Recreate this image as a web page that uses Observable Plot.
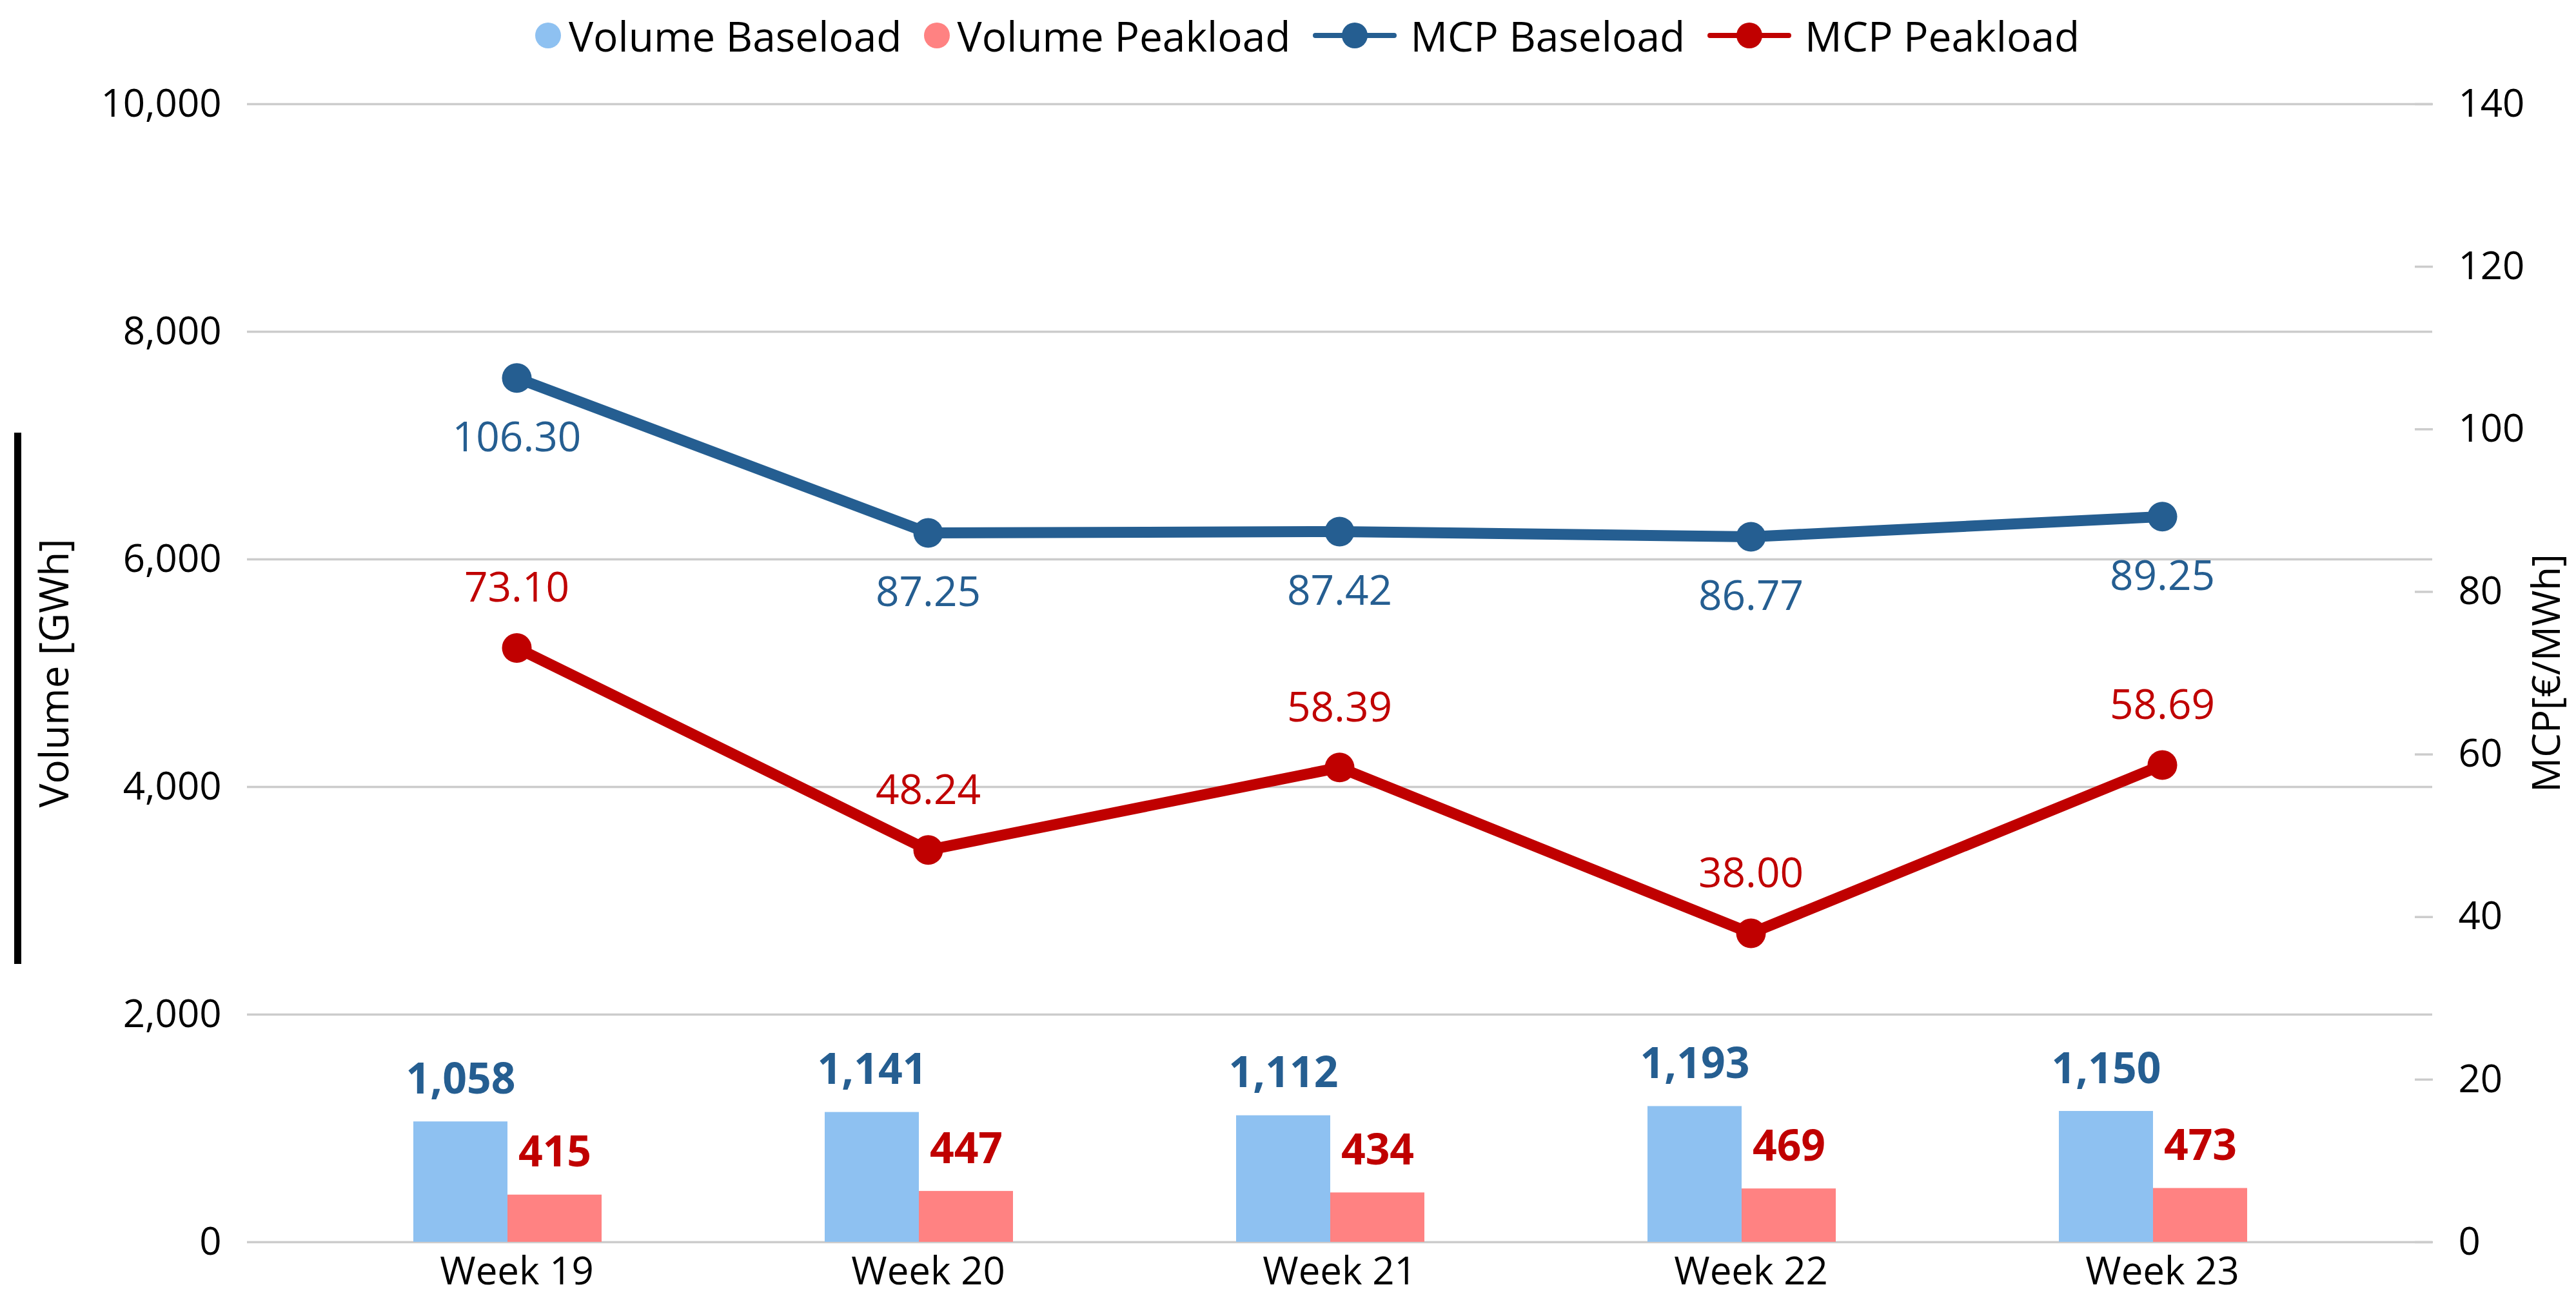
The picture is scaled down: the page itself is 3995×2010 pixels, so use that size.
<!DOCTYPE html>
<html>
<head>
<meta charset="utf-8">
<script src="https://cdn.jsdelivr.net/npm/d3@7"></script>
<script src="https://cdn.jsdelivr.net/npm/@observablehq/plot@0.6"></script>
<style>
  html, body { margin: 0; padding: 0; background: #fff; }
  body { width: 3995px; height: 2010px; position: relative; overflow: hidden; font-family: "Open Sans", sans-serif; }
  #legend { height: 110px; display: flex; justify-content: center; align-items: center; padding-left: 60px; gap: 34px; font-size: 64px; color: #000; }
  .item { display: flex; align-items: center; gap: 12px; white-space: nowrap; }
  .item.line { gap: 20px; }
  .swatch { width: 40px; height: 40px; border-radius: 50%; }
  #bar { position: absolute; left: 22px; top: 671px; width: 11px; height: 824px; background: #000; }
</style>
</head>
<body>
<div id="legend"></div>
<div id="chart"></div>
<div id="bar"></div>
<script>
const weeks = ["Week 19", "Week 20", "Week 21", "Week 22", "Week 23"];
const volumeBaseload = [1058, 1141, 1112, 1193, 1150];
const volumePeakload = [415, 447, 434, 469, 473];
const mcpBaseload = [106.30, 87.25, 87.42, 86.77, 89.25];
const mcpPeakload = [73.10, 48.24, 58.39, 38.00, 58.69];
const volumeTicks = [0, 2000, 4000, 6000, 8000, 10000];
const mcpTicks = [0, 20, 40, 60, 80, 100, 120, 140];
const seriesNames = ["Volume Baseload", "Volume Peakload", "MCP Baseload", "MCP Peakload"];

const colors = {
  volBase: "#8EC1F1",
  volPeak: "#FF8282",
  mcpBase: "#255E91",
  mcpPeak: "#C00000"
};

const VMAX = 10000, MMAX = 140;
const k = VMAX / MMAX; // secondary axis mapping

const rows = weeks.map((w, i) => ({
  week: w,
  vb: volumeBaseload[i],
  vp: volumePeakload[i],
  mb: mcpBaseload[i],
  mp: mcpPeakload[i]
}));

// Legend
const legend = document.getElementById("legend");
const legendDefs = [
  {name: seriesNames[0], type: "dot", color: colors.volBase},
  {name: seriesNames[1], type: "dot", color: colors.volPeak},
  {name: seriesNames[2], type: "line", color: colors.mcpBase},
  {name: seriesNames[3], type: "line", color: colors.mcpPeak}
];
for (const d of legendDefs) {
  const it = document.createElement("div");
  it.className = "item " + d.type;
  if (d.type === "dot") {
    const s = document.createElement("div");
    s.className = "swatch";
    s.style.background = d.color;
    it.appendChild(s);
  } else {
    const ns = "http://www.w3.org/2000/svg";
    const svg = document.createElementNS(ns, "svg");
    svg.setAttribute("width", 132);
    svg.setAttribute("height", 44);
    const ln = document.createElementNS(ns, "line");
    ln.setAttribute("x1", 5); ln.setAttribute("x2", 127);
    ln.setAttribute("y1", 22); ln.setAttribute("y2", 22);
    ln.setAttribute("stroke", d.color); ln.setAttribute("stroke-width", 8);
    ln.setAttribute("stroke-linecap", "round");
    const c = document.createElementNS(ns, "circle");
    c.setAttribute("cx", 66); c.setAttribute("cy", 22); c.setAttribute("r", 20);
    c.setAttribute("fill", d.color);
    svg.appendChild(ln); svg.appendChild(c);
    it.appendChild(svg);
  }
  const t = document.createElement("span");
  t.textContent = d.name;
  it.appendChild(t);
  legend.appendChild(it);
}

const fmt = d3.format(",");
const fmt2 = d3.format(".2f");

const chart = Plot.plot({
  width: 3995,
  height: 1900,
  marginLeft: 383,
  marginRight: 223,
  marginTop: 51,
  marginBottom: 84,
  style: {fontFamily: "'Open Sans', sans-serif", fontSize: "60px", color: "#000", background: "#fff", overflow: "visible"},
  x: {type: "band", domain: weeks, padding: 0, insetLeft: 99, insetRight: 100, label: null},
  y: {domain: [0, VMAX], label: null},
  marks: [
    Plot.gridY(volumeTicks, {stroke: "#cccccc", strokeOpacity: 1, strokeWidth: 3.5}),
    // bars
    Plot.barY(rows, {x: "week", y: "vb", fill: colors.volBase, insetLeft: 159, insetRight: 333}),
    Plot.barY(rows, {x: "week", y: "vp", fill: colors.volPeak, insetLeft: 305, insetRight: 187}),
    // axes
    Plot.axisY(volumeTicks, {anchor: "left", tickSize: 0, tickPadding: 40, tickFormat: fmt, fontSize: 60, label: null}),
    Plot.axisY(mcpTicks.map(v => v * k), {anchor: "right", tickSize: -28, tickPadding: 68, stroke: "#cccccc", strokeWidth: 3.5, tickFormat: d => String(Math.round(d / k)), fontSize: 60, label: null}),
    Plot.axisX({tickSize: 0, tickPadding: 23, fontSize: 60, label: null}),
    // lines
    Plot.line(rows, {x: "week", y: d => d.mb * k, stroke: colors.mcpBase, strokeWidth: 17, strokeLinejoin: "round"}),
    Plot.line(rows, {x: "week", y: d => d.mp * k, stroke: colors.mcpPeak, strokeWidth: 17, strokeLinejoin: "round"}),
    Plot.dot(rows, {x: "week", y: d => d.mb * k, r: 23, fill: colors.mcpBase}),
    Plot.dot(rows, {x: "week", y: d => d.mp * k, r: 23, fill: colors.mcpPeak}),
    // line labels
    Plot.text(rows, {x: "week", y: d => d.mb * k, text: d => fmt2(d.mb), fill: colors.mcpBase, fontSize: 64, dy: 93}),
    Plot.text(rows, {x: "week", y: d => d.mp * k, text: d => fmt2(d.mp), fill: colors.mcpPeak, fontSize: 64, dy: -92}),
    // bar labels
    Plot.text(rows, {x: "week", y: "vb", text: d => fmt(d.vb), fill: colors.mcpBase, fontSize: 66, fontWeight: "bold", dx: -87, dy: -65}),
    Plot.text(rows, {x: "week", y: "vp", text: d => fmt(d.vp), fill: colors.mcpPeak, fontSize: 66, fontWeight: "bold", dx: 59, dy: -65}),
    // axis titles
    Plot.text(["Volume [GWh]"], {text: d => d, frameAnchor: "left", textAnchor: "middle", rotate: -90, dx: -297, fontSize: 62, fill: "#000"}),
    Plot.text(["MCP[€/MWh]"], {text: d => d, frameAnchor: "right", textAnchor: "middle", rotate: -90, dx: 178, fontSize: 60, fill: "#000"})
  ]
});
document.getElementById("chart").appendChild(chart);
</script>
</body>
</html>
